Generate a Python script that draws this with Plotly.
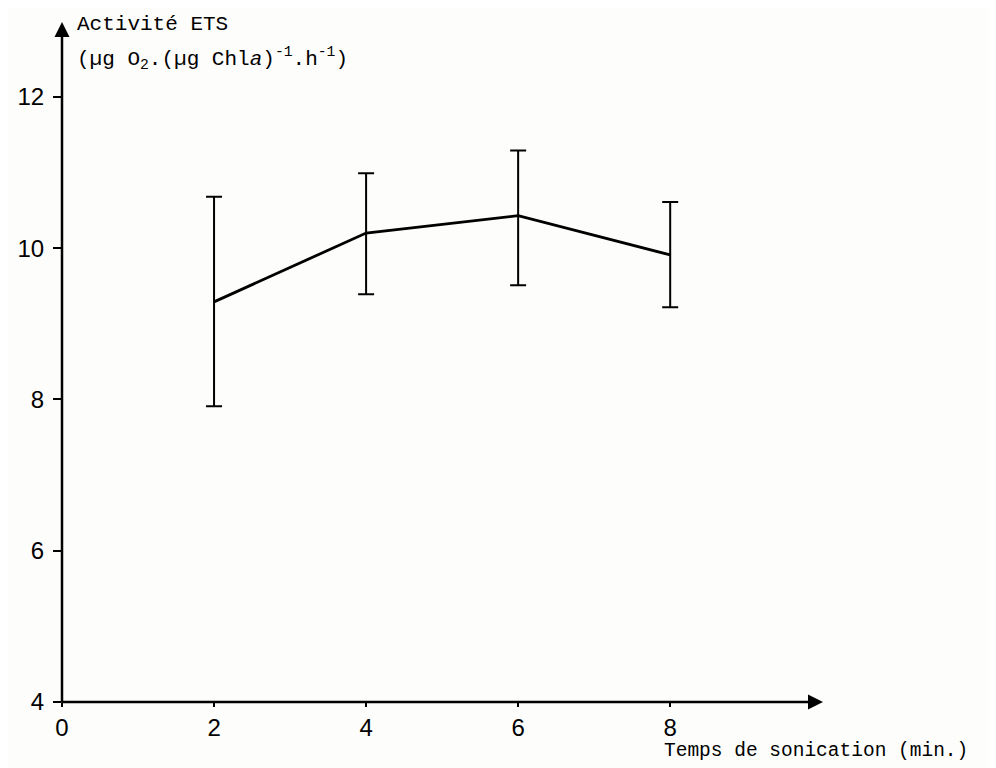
import plotly.graph_objects as go

# Data
temps = [2, 4, 6, 8]                      # Temps de sonication (min.)
activite = [9.29, 10.20, 10.43, 9.91]     # Activité ETS (mean)
borne_haute = [10.68, 10.99, 11.29, 10.61]
borne_basse = [7.91, 9.39, 9.51, 9.22]

x_ticks = [0, 2, 4, 6, 8]
y_ticks = [4, 6, 8, 10, 12]

err_plus = [h - m for h, m in zip(borne_haute, activite)]
err_minus = [m - b for m, b in zip(activite, borne_basse)]

fig = go.Figure()
fig.add_trace(go.Scatter(
    x=temps, y=activite, mode="lines",
    line=dict(color="black", width=2.8),
    error_y=dict(type="data", symmetric=False, array=err_plus, arrayminus=err_minus,
                 color="black", thickness=2, width=8),
    showlegend=False,
))

XMAX, YMAX = 10.01, 12.99
# axes drawn as arrows
fig.add_annotation(x=XMAX, y=4, ax=-0.02, ay=4, xref="x", yref="y", axref="x", ayref="y",
                   showarrow=True, arrowhead=2, arrowsize=1.2, arrowwidth=2.5,
                   arrowcolor="black", text="")
fig.add_annotation(x=0, y=YMAX, ax=0, ay=3.97, xref="x", yref="y", axref="x", ayref="y",
                   showarrow=True, arrowhead=2, arrowsize=1.2, arrowwidth=2.5,
                   arrowcolor="black", text="")

mono = "Liberation Mono"
fig.add_annotation(x=0.017, y=0.996, xref="paper", yref="paper", xanchor="left", yanchor="middle",
                   text="Activité ETS", showarrow=False,
                   font=dict(family=mono, size=21, color="black"))
fig.add_annotation(x=0.017, y=0.947, xref="paper", yref="paper", xanchor="left", yanchor="middle",
                   text="(µg O<sub>2</sub>.(µg Chl<i>a</i>)<sup>-1</sup>.h<sup>-1</sup>)", showarrow=False,
                   font=dict(family=mono, size=21, color="black"))
fig.add_annotation(x=1.193, y=-0.072, xref="paper", yref="paper", xanchor="right", yanchor="middle",
                   text="Temps de sonication (min.)", showarrow=False,
                   font=dict(family=mono, size=19.5, color="black"))

fig.update_layout(
    width=988, height=760,
    margin=dict(l=54, r=173, t=14, b=66),
    paper_bgcolor="#fdfdfb", plot_bgcolor="#fdfdfb",
    xaxis=dict(range=[0, XMAX], tickvals=x_ticks, ticks="outside", ticklen=4, tickwidth=2,
               tickcolor="black", showgrid=False, zeroline=False, showline=False,
               automargin=False,
               tickfont=dict(family="Liberation Sans", size=24, color="black")),
    yaxis=dict(range=[4, YMAX], tickvals=y_ticks, ticks="outside", ticklen=8, tickwidth=2,
               tickcolor="black", showgrid=False, zeroline=False, showline=False,
               ticklabelstandoff=4, automargin=False,
               tickfont=dict(family="Liberation Sans", size=24, color="black")),
)

fig.write_html("out.html")
